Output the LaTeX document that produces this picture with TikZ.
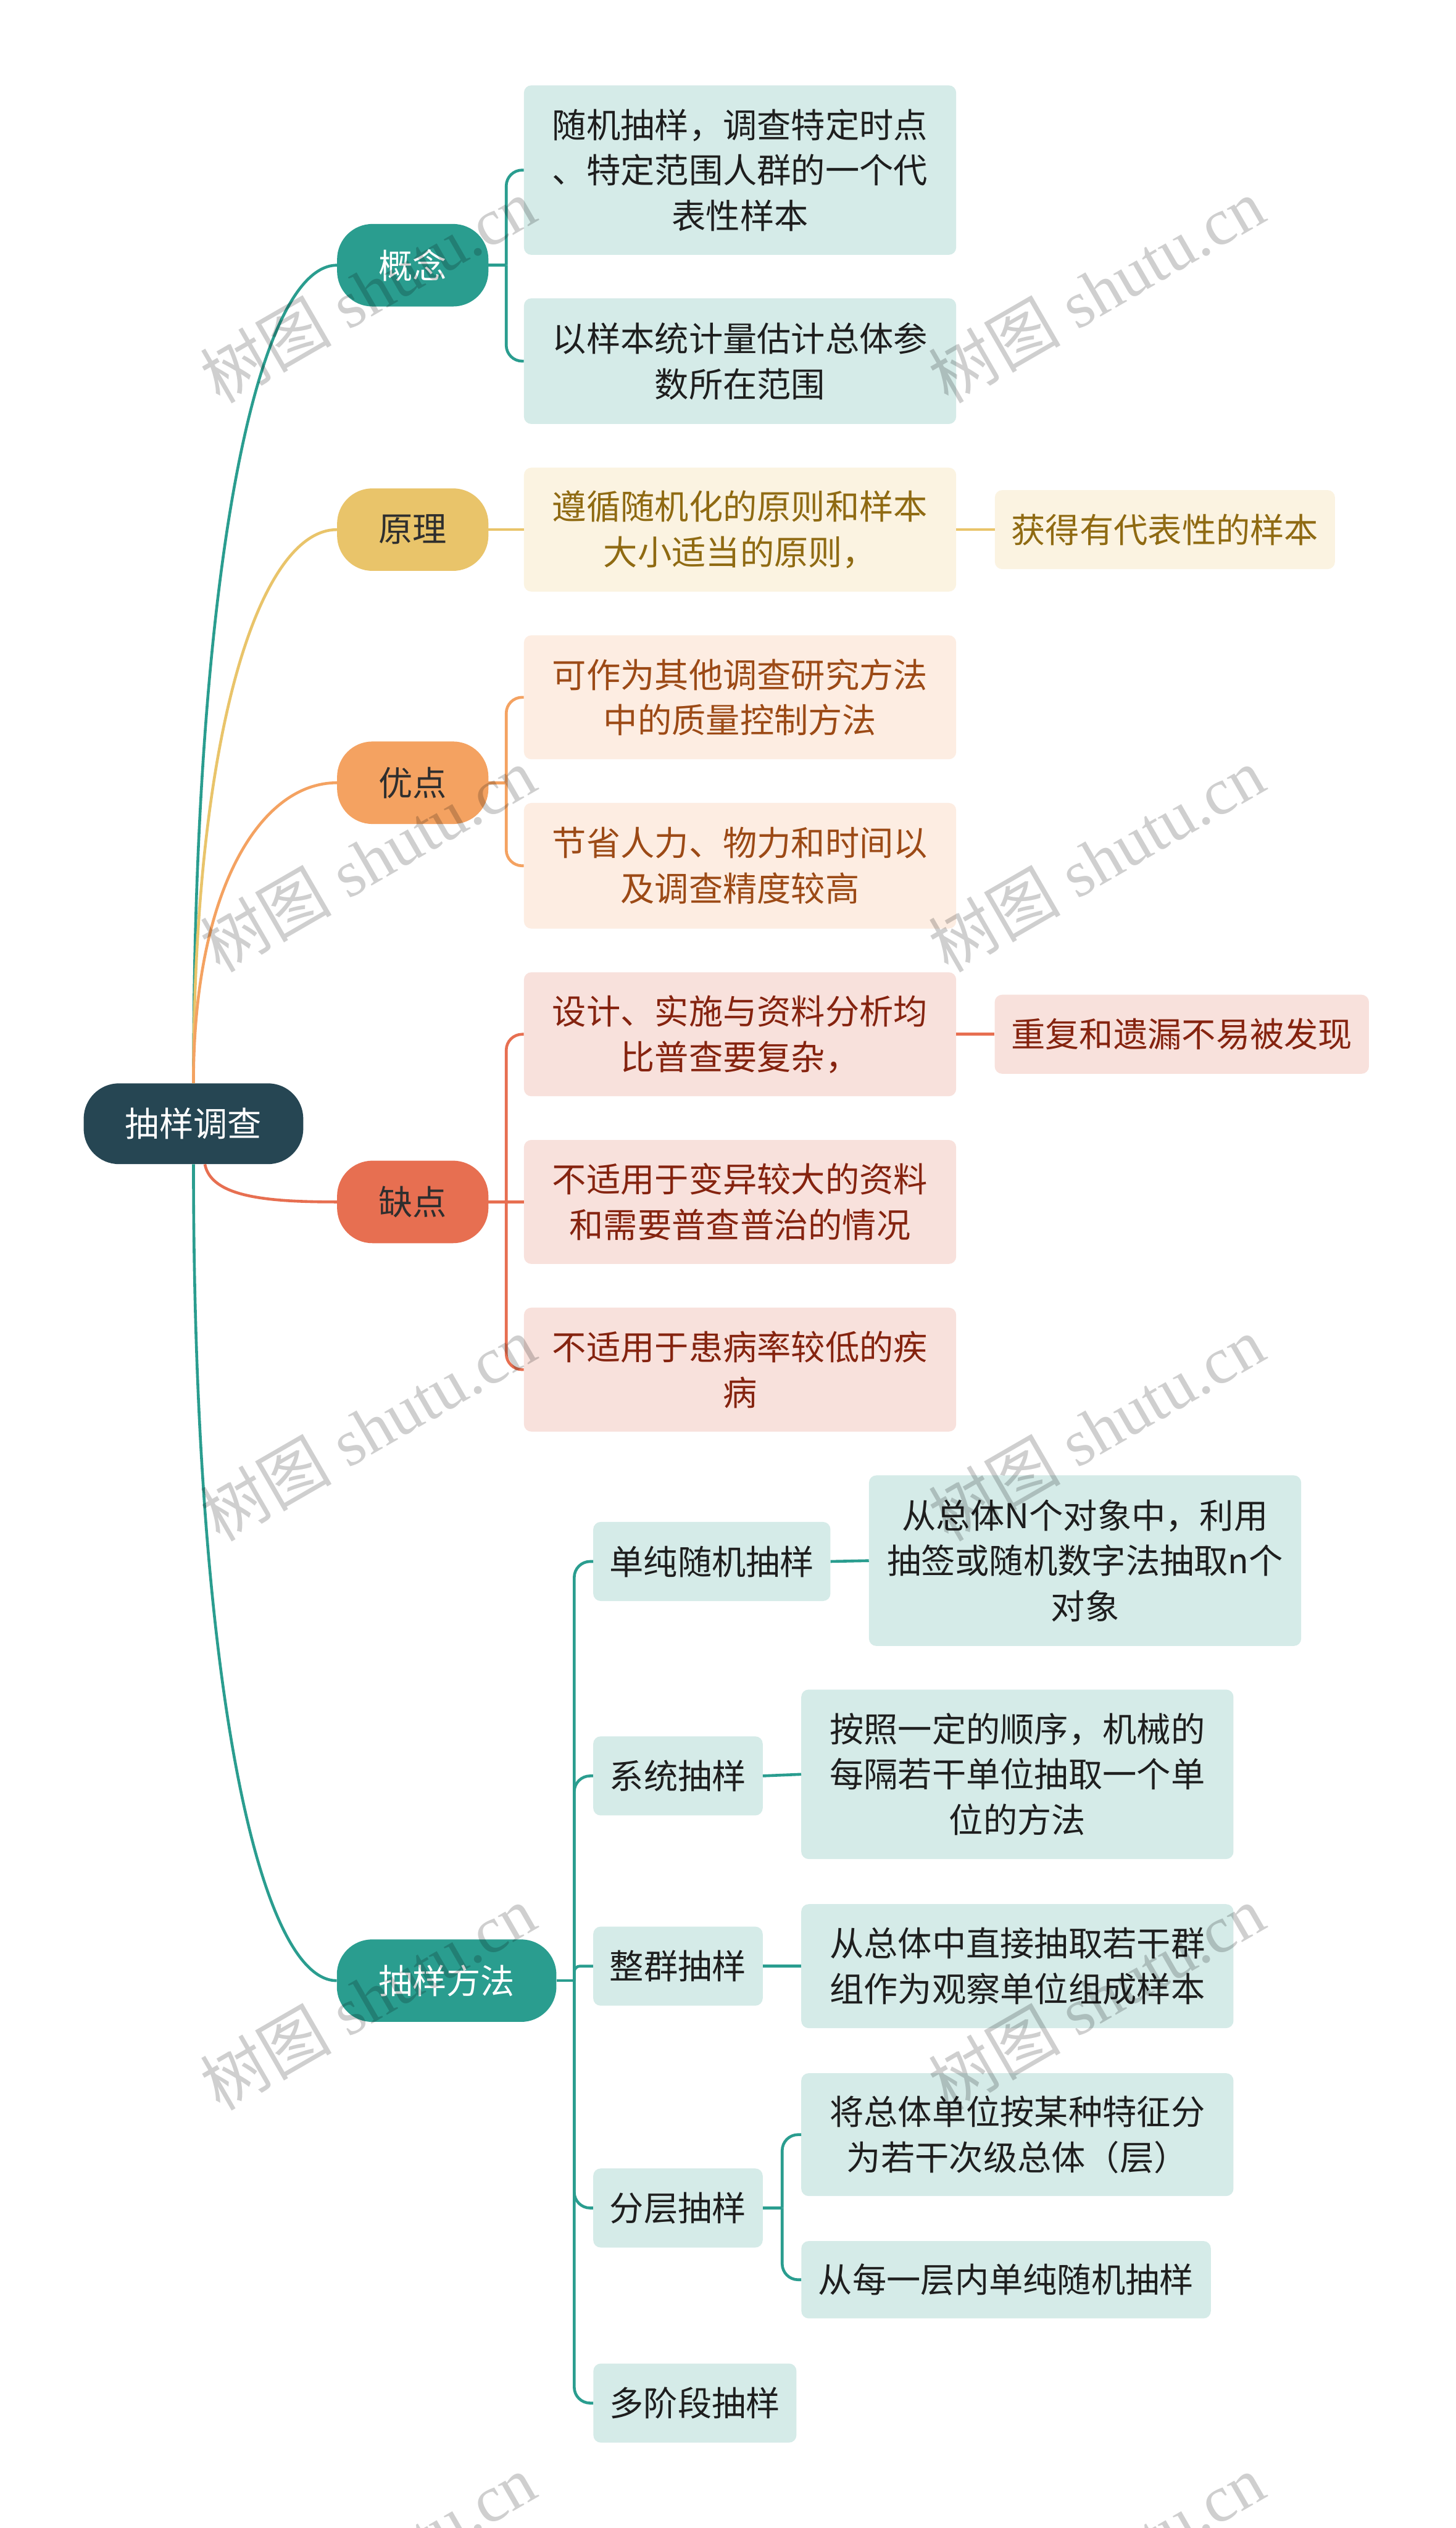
\documentclass[tikz,border=0pt]{standalone}
\usepackage{fontspec}
\usetikzlibrary{calc}
\newfontfamily\cjk{Noto Sans CJK SC}
\newfontfamily\wmlat{Liberation Serif}
\newcommand\nodefont{\cjk\fontsize{60pt}{80pt}\selectfont}
\newcommand\wmfont{\wmlat\fontsize{116pt}{116pt}\selectfont}
\definecolor{rootc}{HTML}{264653}
\definecolor{tealc}{HTML}{2A9D8F}
\definecolor{yellc}{HTML}{E9C46A}
\definecolor{orgc}{HTML}{F4A261}
\definecolor{redc}{HTML}{E76F51}
\definecolor{teall}{HTML}{D5EBE8}
\definecolor{yelll}{HTML}{FBF3E1}
\definecolor{orgl}{HTML}{FDEDE2}
\definecolor{redl}{HTML}{F8E1DC}
\definecolor{tealt}{HTML}{1E1E1E}
\definecolor{yellt}{HTML}{8F6A12}
\definecolor{orgt}{HTML}{9C4A16}
\definecolor{redt}{HTML}{85230F}
\definecolor{darkt}{HTML}{2E2E2E}
\tikzset{
  every node/.style={inner sep=0pt, align=center, font=\nodefont},
  rootnode/.style={fill=rootc, text=white, rounded corners=62pt, minimum width=386pt, minimum height=142pt},
  pillnode/.style={rounded corners=62pt, minimum width=266pt, minimum height=145pt},
  boxnode/.style={rounded corners=13pt, minimum width=760pt},
  tbox/.style={boxnode, fill=teall, text=tealt},
  ybox/.style={boxnode, fill=yelll, text=yellt},
  obox/.style={boxnode, fill=orgl, text=orgt},
  rbox/.style={boxnode, fill=redl, text=redt},
  tline/.style={draw=tealc, line width=5pt},
  yline/.style={draw=yellc, line width=5pt},
  oline/.style={draw=orgc, line width=5pt},
  rline/.style={draw=redc, line width=5pt},
  wmark/.style={rotate=30, text=black, text opacity=0.19, font=\wmfont},
}
\begin{document}
\begin{tikzpicture}[x=2.835pt, y=-2.835pt]
\useasboundingbox (0,0) rectangle (903,1568);
\clip (0,0) rectangle (903,1568);
\fill[white] (0,0) rectangle (903,1568);

% root and main topics
\node[rootnode] (root) at (120,697) {抽样调查};
\node[pillnode, fill=tealc, text=white] (gn) at (256,164.5) {概念};
\node[pillnode, fill=yellc, text=darkt] (yl) at (256,328.5) {原理};
\node[pillnode, fill=orgc, text=darkt] (yd) at (256,485.5) {优点};
\node[pillnode, fill=redc, text=darkt] (qd) at (256,745.5) {缺点};
\node[pillnode, fill=tealc, text=white, minimum width=386pt] (ff) at (277,1228.5) {抽样方法};

% 概念
\node[tbox, minimum height=298pt] (gn1) at (459,105.5) {随机抽样，调查特定时点\\、特定范围人群的一个代\\表性样本};
\node[tbox, minimum height=221pt] (gn2) at (459,224) {以样本统计量估计总体参\\数所在范围};
% 原理
\node[ybox, minimum height=218pt] (yl1) at (459,328.5) {遵循随机化的原则和样本\\大小适当的原则，};
\node[ybox, minimum height=139pt, minimum width=598pt] (yl2) at (722.5,328.5) {获得有代表性的样本};
% 优点
\node[obox, minimum height=218pt] (yd1) at (459,432.5) {可作为其他调查研究方法\\中的质量控制方法};
\node[obox, minimum height=221pt] (yd2) at (459,537) {节省人力、物力和时间以\\及调查精度较高};
% 缺点
\node[rbox, minimum height=218pt] (qd1) at (459,641.5) {设计、实施与资料分析均\\比普查要复杂，};
\node[rbox, minimum height=139pt, minimum width=658pt] (qd1a) at (733,641.5) {重复和遗漏不易被发现};
\node[rbox, minimum height=218pt] (qd2) at (459,745.5) {不适用于变异较大的资料\\和需要普查普治的情况};
\node[rbox, minimum height=218pt] (qd3) at (459,849.5) {不适用于患病率较低的疾\\病};
% 抽样方法
\node[tbox, minimum width=417pt, minimum height=139pt] (f1) at (441.5,968.5) {单纯随机抽样};
\node[tbox, minimum height=300pt] (f1a) at (673,968) {从总体N个对象中，利用\\抽签或随机数字法抽取n个\\对象};
\node[tbox, minimum width=298pt, minimum height=139pt] (f2) at (420.5,1101.5) {系统抽样};
\node[tbox, minimum height=298pt] (f2a) at (631,1100.5) {按照一定的顺序，机械的\\每隔若干单位抽取一个单\\位的方法};
\node[tbox, minimum width=298pt, minimum height=139pt] (f3) at (420.5,1219.5) {整群抽样};
\node[tbox, minimum height=218pt] (f3a) at (631,1219.5) {从总体中直接抽取若干群\\组作为观察单位组成样本};
\node[tbox, minimum width=298pt, minimum height=139pt] (f4) at (420.5,1369.5) {分层抽样};
\node[tbox, minimum height=216pt] (f4a) at (631,1324) {将总体单位按某种特征分\\为若干次级总体（层）};
\node[tbox, minimum width=720pt, minimum height=136pt] (f4b) at (624,1414) {从每一层内单纯随机抽样};
\node[tbox, minimum width=357pt, minimum height=139pt] (f5) at (431,1490.5) {多阶段抽样};

% root connectors
\draw[tline] (root.north) .. controls +(0,-322) and +(-49,0) .. (gn.west);
\draw[yline] (root.north) .. controls +(0,-218) and +(-48,0) .. (yl.west);
\draw[oline] (root.north) .. controls +(0,-119) and +(-48,0) .. (yd.west);
\draw[rline] ([xshift=20pt]root.south) .. controls +(4,20) and +(-45,0) .. (qd.west);
\draw[tline] (root.south) .. controls +(0,322) and +(-48,0) .. (ff.west);

% 概念 bracket
\coordinate (gnj) at ($(gn.east)+(11,0)$);
\draw[tline] (gn.east) -- (gnj);
\draw[tline, rounded corners=28pt] (gnj) |- (gn1.west);
\draw[tline, rounded corners=28pt] (gnj) |- (gn2.west);
% 原理
\draw[yline] (yl.east) -- (yl1.west);
\draw[yline] (yl1.east) -- (yl2.west);
% 优点
\coordinate (ydj) at ($(yd.east)+(11,0)$);
\draw[oline] (yd.east) -- (ydj);
\draw[oline, rounded corners=28pt] (ydj) |- (yd1.west);
\draw[oline, rounded corners=28pt] (ydj) |- (yd2.west);
% 缺点
\coordinate (qdj) at ($(qd.east)+(11,0)$);
\draw[rline] (qd.east) -- (qd2.west);
\draw[rline, rounded corners=28pt] (qdj) |- (qd1.west);
\draw[rline, rounded corners=28pt] (qdj) |- (qd3.west);
\draw[rline] (qd1.east) -- (qd1a.west);
% 抽样方法
\coordinate (ffj) at ($(ff.east)+(11,0)$);
\draw[tline] (ff.east) -- (ffj);
\draw[tline, rounded corners=28pt] (ffj) |- (f1.west);
\draw[tline, rounded corners=28pt] (ffj) |- (f2.west);
\draw[tline, rounded corners=10pt] (ffj) |- (f3.west);
\draw[tline, rounded corners=28pt] (ffj) |- (f4.west);
\draw[tline, rounded corners=28pt] (ffj) |- (f5.west);
\draw[tline] (f1.east) -- (f1a.west);
\draw[tline] (f2.east) -- (f2a.west);
\draw[tline] (f3.east) -- (f3a.west);
\coordinate (f4j) at ($(f4.east)+(12,0)$);
\draw[tline] (f4.east) -- (f4j);
\draw[tline, rounded corners=28pt] (f4j) |- (f4a.west);
\draw[tline, rounded corners=28pt] (f4j) |- (f4b.west);

% watermarks
\node[wmark] (w1) at (228,180) {{\cjk 树图} shutu.cn};
\node[wmark] (w2) at (680,180) {{\cjk 树图} shutu.cn};
\node[wmark] (w3) at (228,533) {{\cjk 树图} shutu.cn};
\node[wmark] (w4) at (680,533) {{\cjk 树图} shutu.cn};
\node[wmark] (w5) at (228,886) {{\cjk 树图} shutu.cn};
\node[wmark] (w6) at (680,886) {{\cjk 树图} shutu.cn};
\node[wmark] (w7) at (228,1239) {{\cjk 树图} shutu.cn};
\node[wmark] (w8) at (680,1239) {{\cjk 树图} shutu.cn};
\node[wmark] (w9) at (228,1592) {{\cjk 树图} shutu.cn};
\node[wmark] (w10) at (680,1592) {{\cjk 树图} shutu.cn};
\end{tikzpicture}
\end{document}
